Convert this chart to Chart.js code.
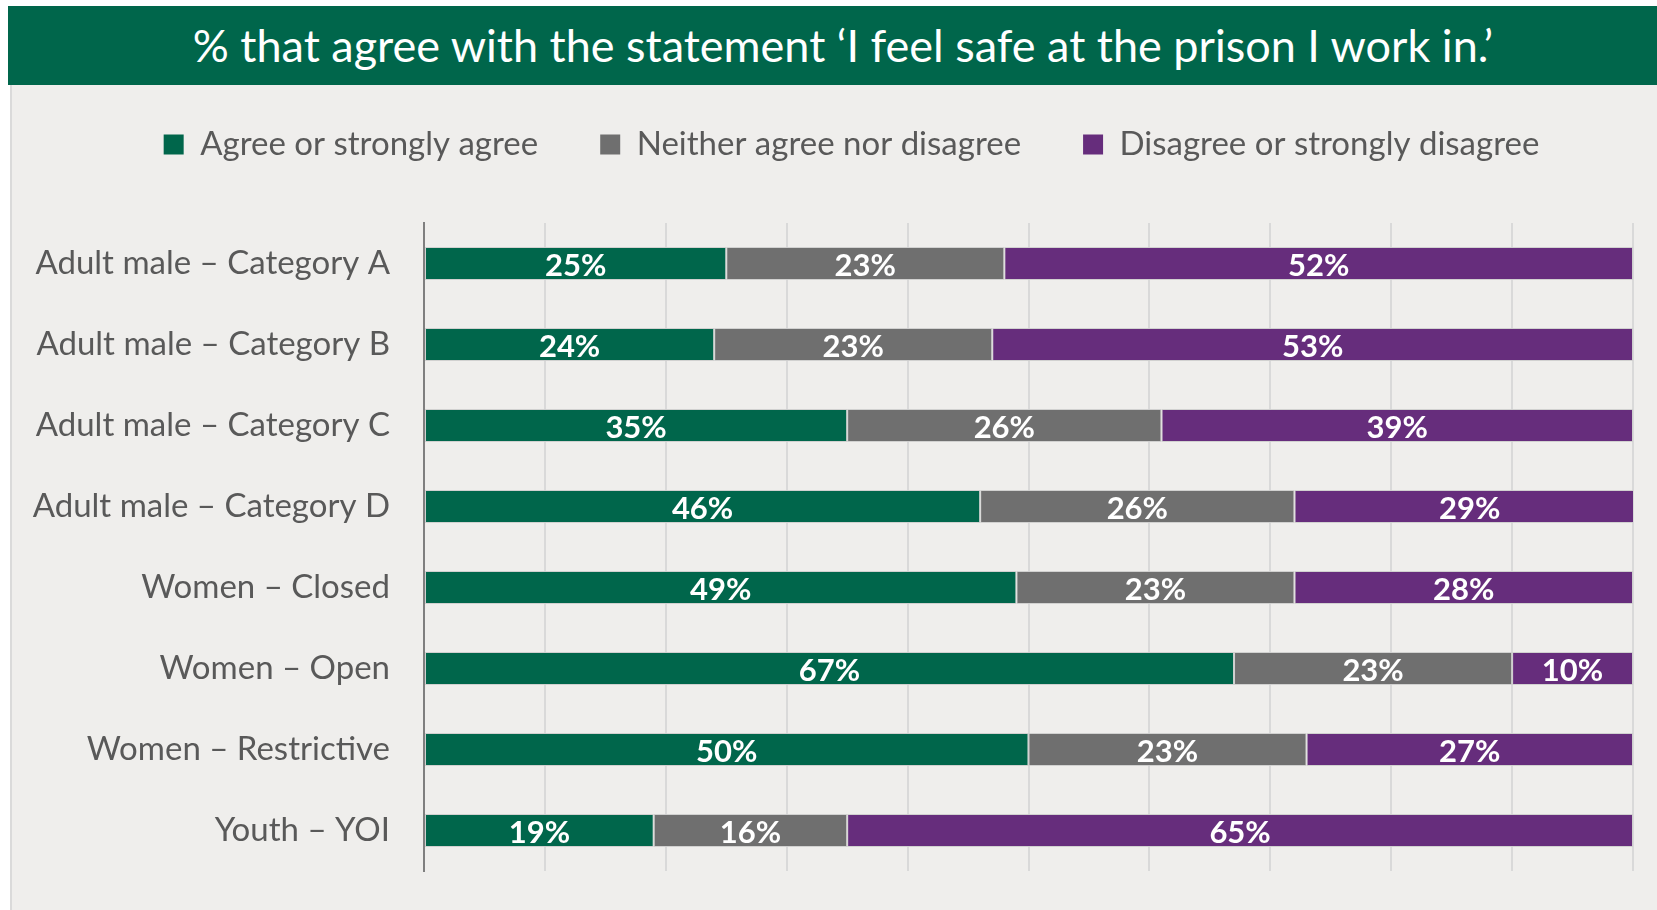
<!DOCTYPE html>
<html>
<head>
<meta charset="utf-8">
<script src="https://cdn.jsdelivr.net/npm/chart.js@4"></script>
<style>
  html, body { margin: 0; padding: 0; background: #ffffff; }
  body { width: 1657px; height: 910px; position: relative; overflow: hidden; font-family: Lato, "Open Sans", sans-serif; }
  #title {
    position: absolute; left: 8px; top: 6px; width: 1649px; height: 79px; padding-left: 21px;
    box-sizing: border-box; background: #00664b; color: #ffffff; font-size: 45px; line-height: 79px;
    text-align: center; white-space: nowrap;
  }
  #panel {
    position: absolute; left: 10px; top: 85px; width: 1647px; height: 825px;
    background: #efeeec; border-left: 2px solid #dadada; box-sizing: border-box;
  }
  #wrap { position: absolute; left: 0; top: 85px; width: 1657px; height: 825px; }
</style>
</head>
<body>
<div id="title">% that agree with the statement ‘I feel safe at the prison I work in.’</div>
<div id="panel"></div>
<div id="wrap"><canvas id="chart"></canvas></div>
<script>
  const categories = [
    'Adult male – Category A',
    'Adult male – Category B',
    'Adult male – Category C',
    'Adult male – Category D',
    'Women – Closed',
    'Women – Open',
    'Women – Restrictive',
    'Youth – YOI'
  ];
  const agree = [25, 24, 35, 46, 49, 67, 50, 19];
  const neither = [23, 23, 26, 26, 23, 23, 23, 16];
  const disagree = [52, 53, 39, 29, 28, 10, 27, 65];

  const textGrey = '#595959';
  const fontFamily = 'Lato, "Open Sans", sans-serif';

  // white percentage labels in the middle of each segment
  const segmentLabels = {
    id: 'segmentLabels',
    afterDatasetsDraw(chart) {
      const ctx = chart.ctx;
      ctx.save();
      ctx.font = 'bold 31px ' + fontFamily;
      ctx.fillStyle = '#ffffff';
      ctx.textAlign = 'center';
      ctx.textBaseline = 'middle';
      chart.data.datasets.forEach((ds, i) => {
        chart.getDatasetMeta(i).data.forEach((bar, j) => {
          const p = bar.getCenterPoint();
          ctx.fillText(ds.data[j] + '%', p.x, p.y + 2);
        });
      });
      ctx.restore();
    }
  };

  // fixed legend height so the plot starts lower, legend nudged right
  const legendPlacement = {
    id: 'legendPlacement',
    beforeInit(chart) {
      const fit = chart.legend.fit;
      chart.legend.fit = function () {
        fit.call(this);
        this.height = 157;
      };
    },
    afterLayout(chart) {
      chart.legend.left += 35;
      chart.legend.right += 35;
    }
  };

  new Chart(document.getElementById('chart'), {
    type: 'bar',
    data: {
      labels: categories,
      datasets: [
        { label: 'Agree or strongly agree', data: agree, backgroundColor: '#00664b' },
        { label: 'Neither agree nor disagree', data: neither, backgroundColor: '#6f6f6f' },
        { label: 'Disagree or strongly disagree', data: disagree, backgroundColor: '#662d7c' }
      ].map(d => Object.assign(d, {
        borderColor: 'rgba(205,205,205,0.9)',
        borderWidth: 1,
        borderSkipped: false,
        categoryPercentage: 1,
        barPercentage: 0.41
      }))
    },
    options: {
      indexAxis: 'y',
      responsive: true,
      maintainAspectRatio: false,
      animation: false,
      layout: { padding: { top: -19, left: 0, right: 24, bottom: 39 } },
      plugins: {
        legend: {
          display: true,
          position: 'top',
          labels: {
            color: textGrey,
            font: { size: 33, family: fontFamily },
            boxWidth: 20,
            boxHeight: 20,
            padding: 62,
            generateLabels(chart) {
              return chart.data.datasets.map((ds, i) => ({
                text: ds.label,
                fillStyle: ds.backgroundColor,
                strokeStyle: ds.backgroundColor,
                lineWidth: 0,
                fontColor: textGrey,
                datasetIndex: i
              }));
            }
          }
        },
        tooltip: { enabled: false }
      },
      scales: {
        x: {
          stacked: true,
          min: 0,
          max: 100,
          ticks: { display: false, stepSize: 10 },
          grid: { color: '#d9d9d9', lineWidth: 2, drawTicks: false },
          border: { display: false }
        },
        y: {
          stacked: true,
          afterFit(scale) {
            scale.width = 424;
            scale.paddingTop = 0;
            scale.paddingBottom = 0;
          },
          ticks: { color: textGrey, font: { size: 33, family: fontFamily }, padding: 34 },
          grid: { display: false, drawTicks: false },
          border: { display: true, color: '#7f7f7f', width: 2 }
        }
      }
    },
    plugins: [segmentLabels, legendPlacement]
  });
</script>
</body>
</html>
